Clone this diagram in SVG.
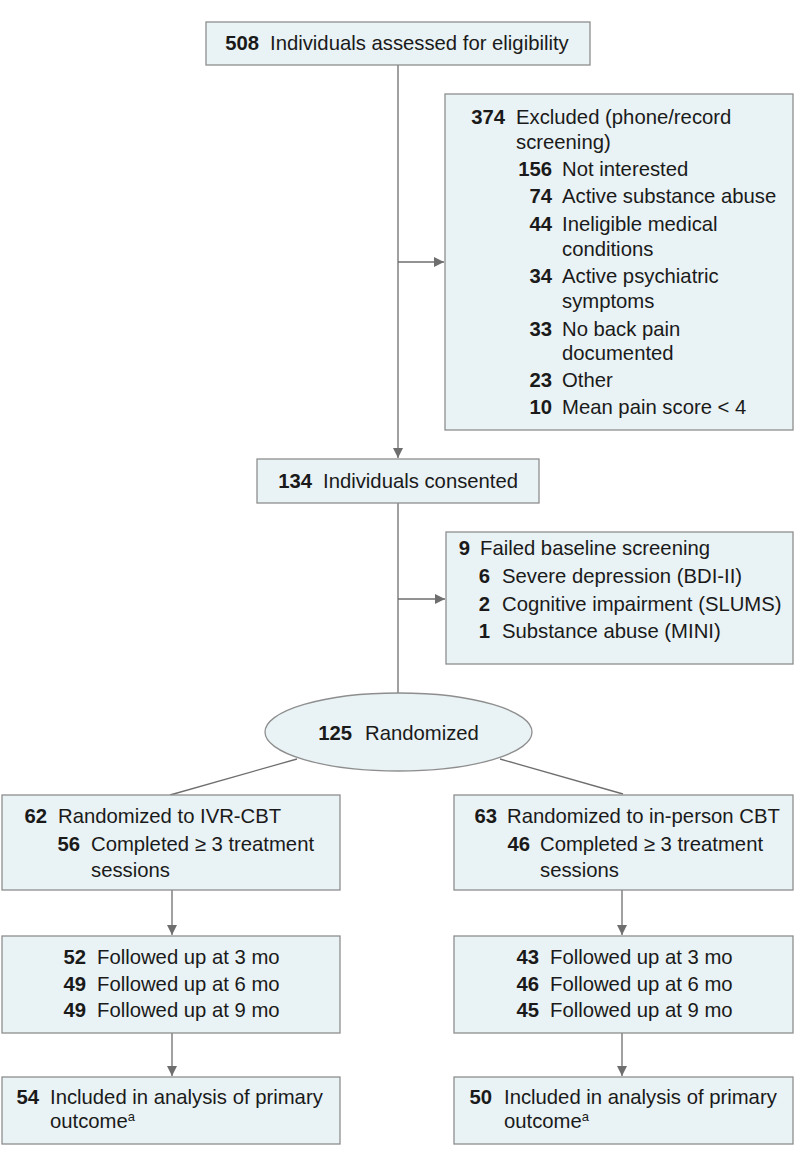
<svg xmlns="http://www.w3.org/2000/svg" width="798" height="1166" viewBox="0 0 798 1166">
<style>
.box{fill:#e9f2f4;stroke:#8e8e8e;stroke-width:1.3}
.t{font-family:"Liberation Sans",Arial,sans-serif;font-size:20.3px;fill:#1a1a1a}
.n{font-family:"Liberation Sans",Arial,sans-serif;font-size:20.3px;font-weight:bold;fill:#1a1a1a;text-anchor:end}
.sup{font-size:13px}
.c{stroke:#6e6e6e;stroke-width:1.3;fill:none}
</style>
<defs>
<marker id="ah" viewBox="0 0 10 10" refX="10" refY="5" markerWidth="10" markerHeight="10" markerUnits="userSpaceOnUse" orient="auto">
<path d="M0,0 L10,5 L0,10 z" fill="#6e6e6e"/>
</marker>
</defs>
<rect width="798" height="1166" fill="#ffffff"/>
<g id="connectors">
<line class="c" x1="398" y1="65" x2="398" y2="458" marker-end="url(#ah)"/>
<line class="c" x1="398" y1="262" x2="444" y2="262" marker-end="url(#ah)"/>
<line class="c" x1="398" y1="503" x2="398" y2="693"/>
<line class="c" x1="398" y1="599" x2="445" y2="599" marker-end="url(#ah)"/>
<line class="c" x1="297" y1="759" x2="170" y2="795"/>
<line class="c" x1="500" y1="759" x2="623" y2="794"/>
<line class="c" x1="172" y1="890" x2="172" y2="935" marker-end="url(#ah)"/>
<line class="c" x1="172" y1="1033" x2="172" y2="1076" marker-end="url(#ah)"/>
<line class="c" x1="622" y1="890" x2="622" y2="935" marker-end="url(#ah)"/>
<line class="c" x1="622" y1="1033" x2="622" y2="1076" marker-end="url(#ah)"/>
</g>
<g id="assessed">
<rect class="box" x="206" y="22" width="384" height="43"/>
<text class="n" x="259" y="50">508</text>
<text class="t" x="270" y="50">Individuals assessed for eligibility</text>
</g>
<g id="excluded">
<rect class="box" x="445" y="94" width="348" height="336"/>
<text class="n" x="505" y="124">374</text>
<text class="t" x="516" y="124">Excluded (phone/record</text>
<text class="t" x="516" y="149">screening)</text>
<text class="n" x="552" y="176">156</text>
<text class="t" x="562" y="176">Not interested</text>
<text class="n" x="552" y="203">74</text>
<text class="t" x="562" y="203">Active substance abuse</text>
<text class="n" x="552" y="231">44</text>
<text class="t" x="562" y="231">Ineligible medical</text>
<text class="t" x="562" y="256">conditions</text>
<text class="n" x="552" y="283">34</text>
<text class="t" x="562" y="283">Active psychiatric</text>
<text class="t" x="562" y="308">symptoms</text>
<text class="n" x="552" y="336">33</text>
<text class="t" x="562" y="336">No back pain</text>
<text class="t" x="562" y="360">documented</text>
<text class="n" x="552" y="387">23</text>
<text class="t" x="562" y="387">Other</text>
<text class="n" x="552" y="414">10</text>
<text class="t" x="562" y="414">Mean pain score &lt; 4</text>
</g>
<g id="consented">
<rect class="box" x="257" y="459" width="282" height="44"/>
<text class="n" x="312" y="488">134</text>
<text class="t" x="323" y="488">Individuals consented</text>
</g>
<g id="failed">
<rect class="box" x="446" y="532" width="347" height="132"/>
<text class="n" x="470" y="555">9</text>
<text class="t" x="480" y="555">Failed baseline screening</text>
<text class="n" x="490" y="583">6</text>
<text class="t" x="502" y="583">Severe depression (BDI-II)</text>
<text class="n" x="490" y="611">2</text>
<text class="t" x="502" y="611">Cognitive impairment (SLUMS)</text>
<text class="n" x="490" y="638">1</text>
<text class="t" x="502" y="638">Substance abuse (MINI)</text>
</g>
<g id="randomized">
<ellipse class="box" cx="398.5" cy="732" rx="133.5" ry="39"/>
<text class="n" x="352" y="740">125</text>
<text class="t" x="365" y="740">Randomized</text>
</g>
<g id="ivr">
<rect class="box" x="2" y="795" width="338" height="95"/>
<text class="n" x="47" y="823">62</text>
<text class="t" x="58" y="823">Randomized to IVR-CBT</text>
<text class="n" x="80" y="851">56</text>
<text class="t" x="91" y="851">Completed ≥ 3 treatment</text>
<text class="t" x="91" y="877">sessions</text>
</g>
<g id="inperson">
<rect class="box" x="454" y="795" width="339" height="95"/>
<text class="n" x="497" y="823">63</text>
<text class="t" x="507" y="823">Randomized to in-person CBT</text>
<text class="n" x="530" y="851">46</text>
<text class="t" x="540" y="851">Completed ≥ 3 treatment</text>
<text class="t" x="540" y="877">sessions</text>
</g>
<g id="ivr-followup">
<rect class="box" x="2" y="936" width="338" height="97"/>
<text class="n" x="86" y="964">52</text>
<text class="t" x="97" y="964">Followed up at 3 mo</text>
<text class="n" x="86" y="991">49</text>
<text class="t" x="97" y="991">Followed up at 6 mo</text>
<text class="n" x="86" y="1017">49</text>
<text class="t" x="97" y="1017">Followed up at 9 mo</text>
</g>
<g id="inperson-followup">
<rect class="box" x="454" y="936" width="339" height="97"/>
<text class="n" x="539" y="964">43</text>
<text class="t" x="550" y="964">Followed up at 3 mo</text>
<text class="n" x="539" y="991">46</text>
<text class="t" x="550" y="991">Followed up at 6 mo</text>
<text class="n" x="539" y="1017">45</text>
<text class="t" x="550" y="1017">Followed up at 9 mo</text>
</g>
<g id="ivr-analysis">
<rect class="box" x="2" y="1077" width="338" height="67"/>
<text class="n" x="39" y="1104">54</text>
<text class="t" x="50" y="1104">Included in analysis of primary</text>
<text class="t" x="50" y="1128">outcome<tspan class="sup" dy="-7">a</tspan></text>
</g>
<g id="inperson-analysis">
<rect class="box" x="454" y="1077" width="339" height="67"/>
<text class="n" x="492" y="1104">50</text>
<text class="t" x="504" y="1104">Included in analysis of primary</text>
<text class="t" x="504" y="1128">outcome<tspan class="sup" dy="-7">a</tspan></text>
</g>
</svg>
